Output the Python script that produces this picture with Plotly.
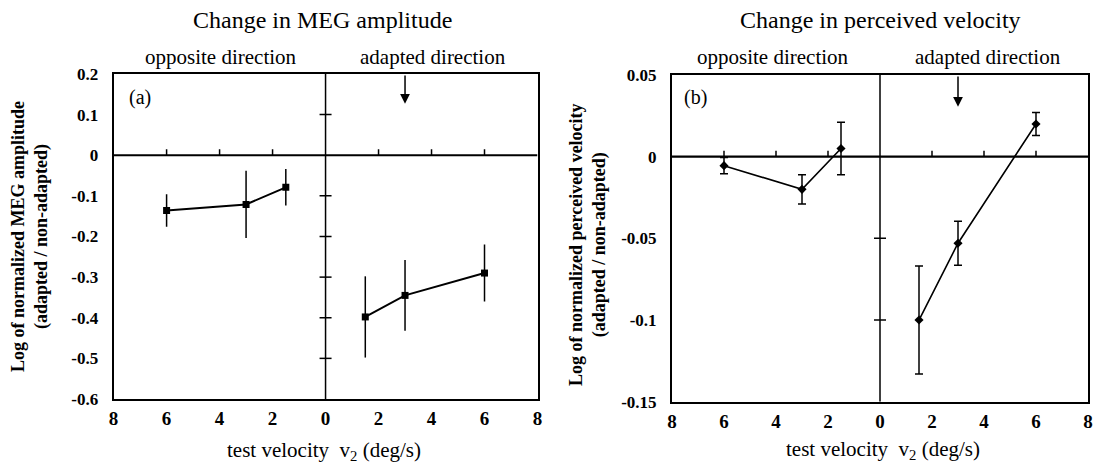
import plotly.graph_objects as go

# ---------------- data ----------------
meg_opp_x = [-6, -3, -1.5]
meg_opp_y = [-0.136, -0.121, -0.079]
meg_opp_err = [0.040, 0.083, 0.045]
meg_adp_x = [1.5, 3, 6]
meg_adp_y = [-0.398, -0.345, -0.290]
meg_adp_err = [0.100, 0.087, 0.070]

vel_opp_x = [-6, -3, -1.5]
vel_opp_y = [-0.0055, -0.020, 0.005]
vel_opp_err = [0.005, 0.009, 0.016]
vel_adp_x = [1.5, 3, 6]
vel_adp_y = [-0.100, -0.053, 0.020]
vel_adp_err = [0.033, 0.0135, 0.007]

x_tickvals = [-8, -6, -4, -2, 0, 2, 4, 6, 8]
x_ticktext = ["8", "6", "4", "2", "0", "2", "4", "6", "8"]
zero_line_ticks = [-6, -4, -2, 2, 4, 6]

meg_yticks = [0.2, 0.1, 0, -0.1, -0.2, -0.3, -0.4, -0.5, -0.6]
meg_ytext = ["0.2", "0.1", "0", "-0.1", "-0.2", "-0.3", "-0.4", "-0.5", "-0.6"]
meg_center_ticks = [0.1, -0.1, -0.2, -0.3, -0.4, -0.5]

vel_yticks = [0.05, 0, -0.05, -0.1, -0.15]
vel_ytext = ["0.05", "0", "-0.05", "-0.1", "-0.15"]
vel_center_ticks = [-0.05, -0.1]

adapt_speed = 3
meg_range = [-0.6, 0.2]
vel_range = [-0.15, 0.05]
x_range = [-8, 8]

FONT = "Liberation Serif"
W, H = 1095, 465

fig = go.Figure()

def add_series(x, y, err, xa, ya, symbol, msize, lw, capw):
    fig.add_trace(go.Scatter(
        x=x, y=y, xaxis=xa, yaxis=ya, mode="lines+markers",
        line=dict(color="black", width=lw),
        marker=dict(symbol=symbol, size=msize, color="black"),
        error_y=dict(type="data", array=err, visible=True, color="black",
                     thickness=1.5, width=capw),
        showlegend=False, hoverinfo="skip"))

add_series(meg_opp_x, meg_opp_y, meg_opp_err, "x", "y", "square", 7, 2, 0)
add_series(meg_adp_x, meg_adp_y, meg_adp_err, "x", "y", "square", 7, 2, 0)
add_series(vel_opp_x, vel_opp_y, vel_opp_err, "x2", "y2", "diamond", 7, 1.6, 4)
add_series(vel_adp_x, vel_adp_y, vel_adp_err, "x2", "y2", "diamond", 7, 1.6, 4)

shapes = []
def panel_shapes(xr, yr, center_ticks, lwz):
    shapes.append(dict(type="line", xref=xr, yref=yr, x0=x_range[0], x1=x_range[1],
                       y0=0, y1=0, line=dict(color="black", width=lwz), layer="below"))
    rng = meg_range if yr == "y" else vel_range
    shapes.append(dict(type="line", xref=xr, yref=yr, x0=0, x1=0,
                       y0=rng[0], y1=rng[1], line=dict(color="black", width=1.5), layer="below"))
    for v in zero_line_ticks:
        shapes.append(dict(type="line", xref=xr, yref=yr, x0=v, x1=v,
                           ysizemode="pixel", yanchor=0, y0=0, y1=6,
                           line=dict(color="black", width=1.5)))
    for v in center_ticks:
        shapes.append(dict(type="line", xref=xr, yref=yr, y0=v, y1=v,
                           xsizemode="pixel", xanchor=0, x0=-6, x1=6,
                           line=dict(color="black", width=1.5)))

panel_shapes("x", "y", meg_center_ticks, 2.2)
panel_shapes("x2", "y2", vel_center_ticks, 2.2)

def ax_common():
    return dict(showline=True, mirror=True, linewidth=2, linecolor="black",
                ticks="", showgrid=False, zeroline=False, automargin=False,
                tickfont=dict(family=FONT, size=19, color="black", weight="bold"))

xa = ax_common(); xa.update(range=x_range, tickvals=x_tickvals, ticktext=x_ticktext,
                            domain=[113.6 / W, 537.5 / W], anchor="y", ticklabelstandoff=1)
xa2 = ax_common(); xa2.update(range=x_range, tickvals=x_tickvals, ticktext=x_ticktext,
                              domain=[672 / W, 1088 / W], anchor="y2", ticklabelstandoff=1)
ya = ax_common(); ya.update(range=meg_range, tickvals=meg_yticks, ticktext=meg_ytext,
                            domain=[1 - 399 / H, 1 - 74 / H], anchor="x", ticklabelstandoff=10)
ya["tickfont"] = dict(family=FONT, size=17, color="black", weight="bold")
ya2 = ax_common(); ya2.update(range=vel_range, tickvals=vel_yticks, ticktext=vel_ytext,
                              domain=[1 - 401.7 / H, 1 - 75 / H], anchor="x2", ticklabelstandoff=10)
ya2["tickfont"] = dict(family=FONT, size=17, color="black", weight="bold")

def txt(x, y, s, size, bold=False, angle=0, xanchor="center", yanchor="middle"):
    return dict(xref="paper", yref="paper", x=x / W, y=1 - y / H, text=s, showarrow=False,
                font=dict(family=FONT, size=size, color="black", weight="bold" if bold else "normal"),
                textangle=angle, xanchor=xanchor, yanchor=yanchor)

annotations = [
    txt(322.5, 20, "Change in MEG amplitude", 24),
    txt(880.5, 20, "Change in perceived velocity", 24),
    txt(221, 57, "opposite direction", 21),
    txt(433, 57, "adapted direction", 21),
    txt(772.6, 57, "opposite direction", 21),
    txt(988, 57, "adapted direction", 21),
    txt(324, 451, "test velocity  v<sub>2</sub> (deg/s)", 21),
    txt(883, 450, "test velocity  v<sub>2</sub> (deg/s)", 21),
    txt(30, 237, "Log of normalized MEG amplitude<br>(adapted / non-adapted)", 18, bold=True, angle=-90),
    txt(588, 245, "Log of normalized perceived velocity<br>(adapted / non-adapted)", 18, bold=True, angle=-90),
    dict(xref="x", yref="y", x=-7.5, y=0.143, text="(a)", showarrow=False, xanchor="left",
         font=dict(family=FONT, size=20, color="black")),
    dict(xref="x2", yref="y2", x=-7.6, y=0.036, text="(b)", showarrow=False, xanchor="left",
         font=dict(family=FONT, size=20, color="black")),
    dict(xref="x", yref="y", x=adapt_speed, y=0.127, ax=adapt_speed, ay=meg_range[1],
         axref="x", ayref="y", text="", showarrow=True, arrowhead=2, arrowsize=1.3,
         arrowwidth=1.5, arrowcolor="black"),
    dict(xref="x2", yref="y2", x=adapt_speed, y=0.0306, ax=adapt_speed, ay=vel_range[1],
         axref="x2", ayref="y2", text="", showarrow=True, arrowhead=2, arrowsize=1.3,
         arrowwidth=1.5, arrowcolor="black"),
]

fig.update_layout(
    width=W, height=H, margin=dict(l=0, r=0, t=0, b=0, pad=0, autoexpand=False),
    paper_bgcolor="white", plot_bgcolor="white",
    xaxis=xa, yaxis=ya, xaxis2=xa2, yaxis2=ya2,
    shapes=shapes, annotations=annotations,
    font=dict(family=FONT, color="black"),
)

fig.write_html("out.html", config={"displayModeBar": False},
               post_script="document.body.style.margin='0';document.body.style.overflow='hidden';")
